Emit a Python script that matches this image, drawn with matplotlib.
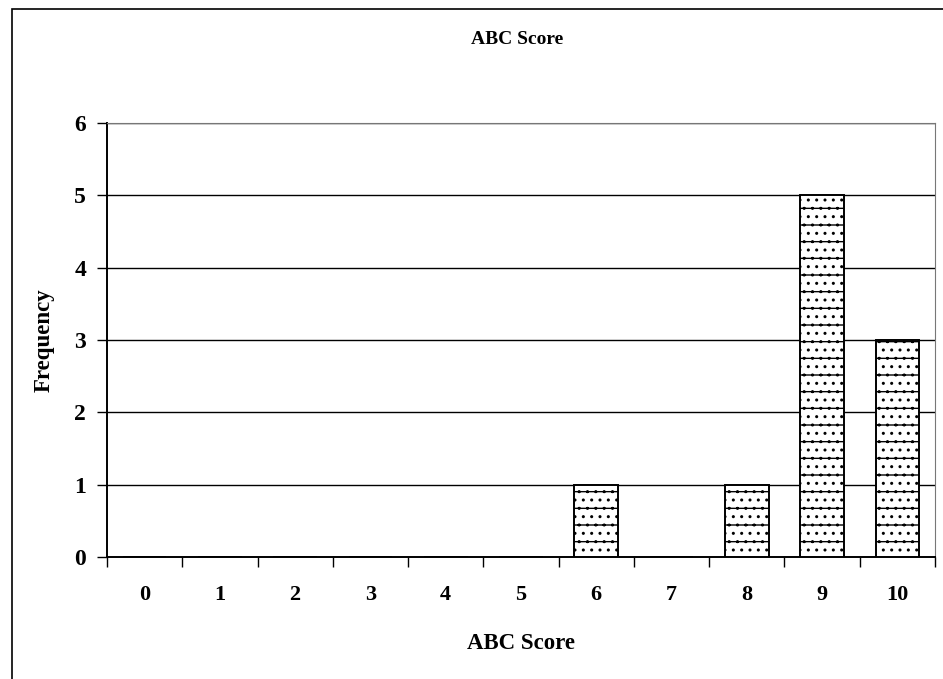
import matplotlib.pyplot as plt
from matplotlib.patches import Rectangle

# ABC score histogram data
scores = ['0', '1', '2', '3', '4', '5', '6', '7', '8', '9', '10']
freq = [0, 0, 0, 0, 0, 0, 1, 0, 1, 5, 3]
y_ticks = [0, 1, 2, 3, 4, 5, 6]

plt.rcParams['font.family'] = ['Liberation Serif', 'DejaVu Serif']
plt.rcParams['font.weight'] = 'bold'
plt.rcParams['hatch.linewidth'] = 1.0

fig = plt.figure(figsize=(9.43, 6.79), dpi=100)
ax = fig.add_axes([107 / 943, 1 - 557 / 679, 828 / 943, 434 / 679])

x = list(range(len(scores)))
ax.bar(x, freq, width=0.58, color='white', edgecolor='black', linewidth=1.4,
       hatch='-..', zorder=3)

ax.set_xlim(-0.5, len(scores) - 0.5)
ax.set_ylim(0, 6)
ax.set_yticks(y_ticks)
ax.set_yticklabels([str(v) for v in y_ticks], fontsize=17, fontweight='bold')
ax.set_xticks(x)
ax.set_xticklabels(scores, fontsize=16, fontweight='bold')
ax.tick_params(axis='x', length=0, pad=20)
ax.tick_params(axis='y', length=7, width=1, pad=8)

# tick marks between categories
ax.set_xticks([i + 0.5 for i in range(-1, len(scores))], minor=True)
ax.tick_params(axis='x', which='minor', length=7, width=1, direction='out')

for v in y_ticks[1:]:
    ax.axhline(v, color='black', linewidth=1.0, zorder=1)

ax.spines['left'].set_linewidth(1.4)
ax.spines['bottom'].set_linewidth(1.4)
for side in ['top', 'right']:
    ax.spines[side].set_color('#777777')
    ax.spines[side].set_linestyle((0, (2, 1)))
    ax.spines[side].set_linewidth(0.8)

ax.set_xlabel('ABC Score', fontsize=16.5, fontweight='bold', labelpad=20)
ax.set_ylabel('Frequency', fontsize=16.5, fontweight='bold', labelpad=14)
fig.text(517 / 943, 1 - 40 / 679, 'ABC Score', ha='center', va='center',
         fontsize=14, fontweight='bold')

# outer chart frame
fig.patches.append(Rectangle((12 / 943, -0.05), 1.0, 1 - 9 / 679 + 0.05,
                             transform=fig.transFigure, fill=False,
                             edgecolor='black', linewidth=1.2))

fig.savefig('out.png', dpi=100)
